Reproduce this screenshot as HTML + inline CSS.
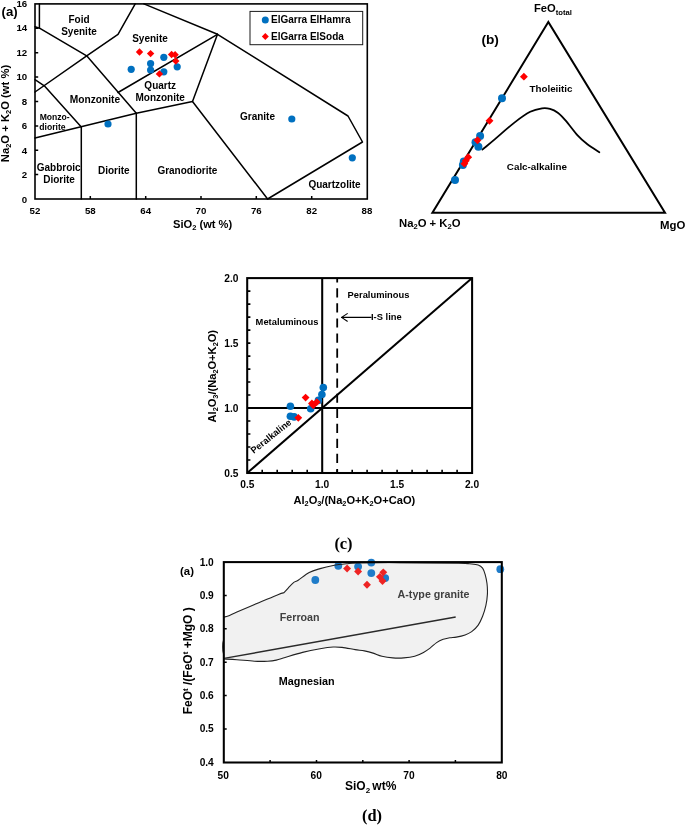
<!DOCTYPE html>
<html lang="en">
<head>
<meta charset="utf-8">
<title>Geochemical classification diagrams</title>
<style>
html,body{margin:0;padding:0;background:#fff;}
body{width:685px;height:825px;overflow:hidden;}
svg{display:block;}
text{font-family:"Liberation Sans",Arial,sans-serif;font-weight:bold;fill:#000;}
.serif{font-family:"Liberation Serif","Times New Roman",serif;font-weight:bold;}
.ln{stroke:#000;stroke-width:1.5;fill:none;stroke-linecap:round;stroke-linejoin:round;}
.ax{stroke:#000;stroke-width:1.6;fill:none;}
.tk{stroke:#000;stroke-width:1.3;fill:none;}
.b{fill:#0070c0;}
.r{fill:#ff0000;}
</style>
</head>
<body>
<svg width="685" height="825" viewBox="0 0 685 825">
<rect x="0" y="0" width="685" height="825" fill="#ffffff"/>

<!-- ================= PANEL A : TAS ================= -->
<g id="panelA">
<rect class="ax" x="35" y="3.9" width="332.3" height="195.1"/>
<g class="ln">
<path d="M39.4 3.9 L39.4 28"/>
<path d="M35 26.8 L39.5 28.2 L86.7 55.8 L136.3 113.3"/>
<path d="M35 138 L136.3 113.3 L192.5 101.5"/>
<path d="M35 92 L86.7 55.8 L118 34.3 L135.2 3.9"/>
<path d="M35 79.7 L44.3 85.8 L81.3 127"/>
<path d="M81.3 127 L81.3 199"/>
<path d="M136.3 113.3 L136.3 199"/>
<path d="M118 92.5 L217.5 34.3"/>
<path d="M143.9 3.9 L217.5 34.3 L348 116 L362.5 142 L267.6 199"/>
<path d="M217.5 34.3 L192.5 101.5 L267.6 199"/>
</g>
<!-- ticks -->
<g class="tk" style="stroke-width:1.5">
<path d="M35 174.6h3.2M35 150.2h3.2M35 125.9h3.2M35 101.5h3.2M35 77.1h3.2M35 52.7h3.2M35 28.3h3.2"/>
<path d="M90.3 199v-3M145.7 199v-3M201 199v-3M256.3 199v-3M311.7 199v-3"/>
</g>
<g font-size="9.7" text-anchor="end">
<text x="27.2" y="202.5">0</text><text x="27.2" y="178">2</text><text x="27.2" y="153.6">4</text><text x="27.2" y="129.2">6</text>
<text x="27.2" y="104.7">8</text><text x="27.2" y="80.3">10</text><text x="27.2" y="55.8">12</text><text x="27.2" y="31">14</text><text x="27.2" y="6.8">16</text>
</g>
<g font-size="9.7" text-anchor="middle">
<text x="35" y="213.5">52</text><text x="90.3" y="213.5">58</text><text x="145.7" y="213.5">64</text><text x="201" y="213.5">70</text>
<text x="256.3" y="213.5">76</text><text x="311.7" y="213.5">82</text><text x="367" y="213.5">88</text>
</g>
<text x="1.5" y="16.3" font-size="13.2">(a)</text>
<text transform="translate(9,113.5) rotate(-90)" font-size="11.25" text-anchor="middle">Na<tspan font-size="7.5" dy="2.2">2</tspan><tspan dy="-2.2">O + K</tspan><tspan font-size="7.5" dy="2.2">2</tspan><tspan dy="-2.2">O (wt %)</tspan></text>
<text x="202.6" y="228" font-size="11.15" text-anchor="middle">SiO<tspan font-size="7.5" dy="2.2">2</tspan><tspan dy="-2.2"> (wt %)</tspan></text>
<!-- field labels -->
<g font-size="10" text-anchor="middle">
<text x="79" y="23">Foid</text><text x="79" y="35">Syenite</text>
<text x="150" y="42">Syenite</text>
<text x="160.2" y="88.5">Quartz</text><text x="160.2" y="100.6">Monzonite</text>
<text x="95" y="102.5" font-size="10.2">Monzonite</text>
<text x="54.7" y="119.9" font-size="8.6">Monzo-</text><text x="52.5" y="129.8" font-size="8.6">diorite</text>
<text x="58.7" y="171">Gabbroic</text><text x="59" y="183">Diorite</text>
<text x="113.8" y="174">Diorite</text>
<text x="187.4" y="174">Granodiorite</text>
<text x="257.5" y="119.6">Granite</text>
<text x="334.5" y="188">Quartzolite</text>
</g>
<!-- legend -->
<rect x="250" y="11.4" width="112.7" height="33.3" fill="#fff" stroke="#1a1a1a" stroke-width="1"/>
<circle class="b" cx="265.3" cy="19.9" r="3.5"/>
<path class="r" d="M265.3 33 l3.5 3.5 -3.5 3.5 -3.5 -3.5z"/>
<text x="271" y="23.4" font-size="10">ElGarra ElHamra</text>
<text x="271" y="40" font-size="10">ElGarra ElSoda</text>
<!-- data -->
<g class="b">
<circle cx="163.8" cy="57.3" r="3.6"/><circle cx="150.6" cy="63.6" r="3.6"/><circle cx="150.6" cy="70" r="3.6"/>
<circle cx="131.2" cy="69.3" r="3.6"/><circle cx="163.8" cy="71.8" r="3.6"/><circle cx="177.2" cy="66.8" r="3.6"/>
<circle cx="108" cy="124" r="3.6"/><circle cx="291.8" cy="119" r="3.6"/><circle cx="352.3" cy="157.8" r="3.6"/>
</g>
<g class="r">
<path d="M139.5 48.3l3.7 3.7-3.7 3.7-3.7-3.7z"/><path d="M150.6 49.9l3.7 3.7-3.7 3.7-3.7-3.7z"/>
<path d="M171.6 50.8l3.7 3.7-3.7 3.7-3.7-3.7z"/><path d="M175.1 51.1l3.7 3.7-3.7 3.7-3.7-3.7z"/>
<path d="M175.8 57.4l3.7 3.7-3.7 3.7-3.7-3.7z"/><path d="M159.4 70.2l3.7 3.7-3.7 3.7-3.7-3.7z"/>
</g>
</g>

<!-- ================= PANEL B : AFM ================= -->
<g id="panelB">
<path class="ln" style="stroke-width:2;stroke-linejoin:miter" d="M548.3 22 L432.4 212.8 L665 212.8 Z"/>
<path class="ln" style="stroke-width:1.8" d="M482.4 149.6 C484.4 147.9 489.4 143.9 494.7 139.4 C500.0 134.9 508.5 127.2 514.4 122.6 C520.3 118.0 525.6 114.2 530.2 111.8 C534.8 109.4 538.7 108.8 542.0 108.3 C545.3 107.8 547.4 108.1 550.0 108.8 C552.6 109.5 555.2 110.7 557.8 112.7 C560.4 114.7 562.4 116.8 565.7 120.6 C569.0 124.4 574.0 131.4 577.6 135.4 C581.2 139.4 583.8 141.5 587.4 144.3 C591.0 147.1 597.3 150.9 599.3 152.2"/>
<text x="533.9" y="12.4" font-size="11.2">FeO<tspan font-size="7.7" dy="2.2">total</tspan></text>
<text x="481.4" y="43.5" font-size="13.7">(b)</text>
<text x="529.5" y="91.9" font-size="9.8">Tholeiitic</text>
<text x="506.8" y="169.6" font-size="9.85">Calc-alkaline</text>
<text x="399" y="226.5" font-size="11.3">Na<tspan font-size="7.6" dy="2.2">2</tspan><tspan dy="-2.2">O + K</tspan><tspan font-size="7.6" dy="2.2">2</tspan><tspan dy="-2.2">O</tspan></text>
<text x="660" y="228.9" font-size="11.4">MgO</text>
<g class="b">
<circle cx="502" cy="98.2" r="4.0"/><circle cx="480.1" cy="135.9" r="4.0"/><circle cx="475.5" cy="142.3" r="4.0"/>
<circle cx="478.4" cy="146.7" r="4.0"/><circle cx="463.8" cy="161.6" r="4.0"/><circle cx="462.9" cy="165.1" r="4.0"/>
<circle cx="455" cy="180" r="4.0"/>
</g>
<g class="r">
<path d="M523.9 72.7l3.95 3.95-3.95 3.95-3.95-3.95z"/><path d="M489.5 116.8l3.95 3.95-3.95 3.95-3.95-3.95z"/>
<path d="M477.5 136.3l3.95 3.95-3.95 3.95-3.95-3.95z"/><path d="M468.2 153.2l3.95 3.95-3.95 3.95-3.95-3.95z"/>
<path d="M465.8 156.8l3.95 3.95-3.95 3.95-3.95-3.95z"/><path d="M464.4 159.7l3.95 3.95-3.95 3.95-3.95-3.95z"/>
</g>
</g>

<!-- ================= PANEL C : A/CNK ================= -->
<g id="panelC">
<rect class="ax" x="247.2" y="278.1" width="224.9" height="194.9" style="stroke-width:2.05"/>
<path class="ax" style="stroke-width:2.0" d="M247.2 473.0 L472.1 278.1"/>
<path class="ax" style="stroke-width:2.05" d="M322.2 278.1 V473.0"/>
<path class="ax" style="stroke-width:2.05" d="M247.2 408.0 H472.1"/>
<path class="ax" style="stroke-width:1.8" stroke-dasharray="9.2 5.85" stroke-dashoffset="4.85" d="M337.2 278.1 V473.0"/>
<g class="tk" style="stroke-width:1.6">
<path d="M247.2 460.0h3.2M247.2 447.0h3.2M247.2 434.0h3.2M247.2 421.0h3.2M247.2 395.0h3.2M247.2 382.0h3.2M247.2 369.1h3.2M247.2 356.1h3.2M247.2 330.1h3.2M247.2 317.1h3.2M247.2 304.1h3.2M247.2 291.1h3.2M247.2 343.1h3.2"/>
<path d="M262.2 473.0v-3.2M277.2 473.0v-3.2M292.2 473.0v-3.2M307.2 473.0v-3.2M337.2 473.0v-3.2M352.2 473.0v-3.2M367.1 473.0v-3.2M382.1 473.0v-3.2M412.1 473.0v-3.2M427.1 473.0v-3.2M442.1 473.0v-3.2M457.1 473.0v-3.2M397.1 473.0v-3.2"/>
</g>
<g font-size="10.2" text-anchor="end">
<text x="238.4" y="281.9">2.0</text><text x="238.4" y="346.8">1.5</text><text x="238.4" y="411.7">1.0</text><text x="238.4" y="476.6">0.5</text>
</g>
<g font-size="10.2" text-anchor="middle">
<text x="247.4" y="488.2">0.5</text><text x="322.2" y="488.2">1.0</text><text x="397.1" y="488.2">1.5</text><text x="472" y="488.2">2.0</text>
</g>
<text transform="translate(215.8,376.2) rotate(-90) scale(1.04,1)" font-size="10.7" text-anchor="middle">Al<tspan font-size="7" dy="2">2</tspan><tspan dy="-2">O</tspan><tspan font-size="7" dy="2">3</tspan><tspan dy="-2">/(Na</tspan><tspan font-size="7" dy="2">2</tspan><tspan dy="-2">O+K</tspan><tspan font-size="7" dy="2">2</tspan><tspan dy="-2">O)</tspan></text>
<text transform="translate(354.4,503.5) scale(1.04,1)" font-size="10.7" text-anchor="middle">Al<tspan font-size="7" dy="2">2</tspan><tspan dy="-2">O</tspan><tspan font-size="7" dy="2">3</tspan><tspan dy="-2">/(Na</tspan><tspan font-size="7" dy="2">2</tspan><tspan dy="-2">O+K</tspan><tspan font-size="7" dy="2">2</tspan><tspan dy="-2">O+CaO)</tspan></text>
<text x="347.6" y="298" font-size="9.35">Peraluminous</text>
<text x="255.6" y="324.5" font-size="9.35">Metaluminous</text>
<text x="371" y="320" font-size="9.35">I-S line</text>
<path class="ln" style="stroke-width:1.1" d="M341.5 317.4 H371 M347.3 313.6 L341.5 317.4 L347.3 321.2"/>
<text transform="translate(253.7,454) rotate(-38.5)" font-size="9.3">Peralkaline</text>
<text class="serif" x="343.5" y="548.6" font-size="16.4" text-anchor="middle">(c)</text>
<g class="b">
<circle cx="323.3" cy="387.6" r="3.8"/><circle cx="321.9" cy="394.5" r="3.8"/><circle cx="318.4" cy="400.4" r="3.8"/>
<circle cx="290.4" cy="406.2" r="3.8"/><circle cx="310.7" cy="408.8" r="3.8"/><circle cx="290.4" cy="416.2" r="3.8"/>
<circle cx="294.1" cy="416.9" r="3.8"/>
</g>
<g class="r">
<path d="M305.6 393.7l3.9 3.9-3.9 3.9-3.9-3.9z"/><path d="M311.9 399.6l3.9 3.9-3.9 3.9-3.9-3.9z"/>
<path d="M316.8 398.2l3.9 3.9-3.9 3.9-3.9-3.9z"/><path d="M313.3 401.4l3.9 3.9-3.9 3.9-3.9-3.9z"/>
<path d="M298.3 413.9l3.9 3.9-3.9 3.9-3.9-3.9z"/>
</g>
</g>

<!-- ================= PANEL D : Fe* ================= -->
<g id="panelD">
<path d="M223.6 617.3 C223.4 617.1 225.7 616.8 228.1 615.9 C230.5 615.0 231.8 614.1 236.9 611.9 C242.0 609.7 251.9 605.6 258.8 602.7 C265.7 599.8 274.3 596.1 278.5 594.4 C282.7 592.7 283.1 593.0 284.0 592.7 C284.7 591.9 286.8 589.5 288.4 587.8 C290.0 586.1 292.2 583.7 293.8 582.4 C295.4 581.1 295.6 581.9 298.2 580.2 C300.8 578.6 305.5 574.4 309.2 572.5 C312.9 570.6 316.1 569.8 320.1 568.6 C324.1 567.4 328.8 566.3 333.2 565.5 C337.6 564.7 342.4 564.2 346.4 563.8 C350.4 563.4 348.4 563.1 357.3 562.9 C366.2 562.7 383.1 562.5 400.0 562.6 C416.9 562.7 446.9 563.1 458.5 563.3 C470.1 563.5 466.2 563.5 469.5 563.8 C472.8 564.1 476.0 564.2 478.2 564.9 C480.4 565.6 481.4 566.5 482.6 568.1 C483.8 569.7 484.5 572.1 485.2 574.7 C485.9 577.3 486.6 580.2 487.0 583.5 C487.4 586.8 487.6 590.8 487.4 594.4 C487.2 598.0 486.7 601.8 485.9 605.4 C485.1 609.0 483.9 613.0 482.6 616.3 C481.3 619.6 480.0 622.5 478.2 625.1 C476.4 627.7 473.9 630.0 471.7 631.6 C469.5 633.2 467.7 634.0 465.1 634.9 C462.5 635.8 458.9 636.6 456.3 637.1 C453.8 637.6 452.0 637.4 449.8 637.8 C447.6 638.2 445.4 638.5 443.2 639.3 C441.0 640.1 438.8 641.1 436.6 642.6 C434.4 644.1 432.3 646.5 430.1 648.1 C427.9 649.7 426.1 651.0 423.5 652.4 C420.9 653.8 418.0 655.3 414.7 656.2 C411.4 657.1 407.4 657.6 403.8 657.9 C400.2 658.2 396.5 658.2 392.8 657.9 C389.1 657.6 385.2 657.0 381.9 656.2 C378.6 655.4 376.0 654.0 373.1 653.1 C370.2 652.2 367.4 651.5 364.4 650.9 C361.4 650.3 358.8 650.2 355.1 649.6 C351.4 649.0 345.6 647.8 342.0 647.4 C338.4 647.0 336.8 646.8 333.2 647.0 C329.6 647.2 325.2 647.8 320.1 648.7 C315.0 649.6 308.4 650.9 302.6 652.4 C296.8 653.9 289.5 656.2 285.1 657.5 C280.7 658.8 279.2 659.5 276.3 660.1 C273.4 660.7 271.2 661.0 267.6 661.2 C264.0 661.4 259.5 661.5 254.4 661.2 C249.3 661.0 242.2 660.1 236.9 659.7 C231.6 659.3 224.9 659.1 223.6 659.0 L223.6 654 C222.4 651 222.4 643 223.6 640 Z" fill="#f1f1f1" stroke="none"/>
<g fill="#1f7cc9">
<circle cx="315.3" cy="580" r="3.9"/><circle cx="338.3" cy="565.8" r="3.9"/><circle cx="358.1" cy="566.6" r="3.9"/>
<circle cx="371.3" cy="562.6" r="3.9"/><circle cx="371.3" cy="573.1" r="3.9"/><circle cx="385.2" cy="578.1" r="3.9"/>
<circle cx="500.3" cy="569.2" r="3.9"/>
</g>
<g fill="#ee2424">
<path d="M347.1 564.5l3.95 3.95-3.95 3.95-3.95-3.95z"/><path d="M358.1 567.5l3.95 3.95-3.95 3.95-3.95-3.95z"/>
<path d="M383.3 568.4l3.95 3.95-3.95 3.95-3.95-3.95z"/><path d="M379.9 572.9l3.95 3.95-3.95 3.95-3.95-3.95z"/>
<path d="M382.5 577.0l3.95 3.95-3.95 3.95-3.95-3.95z"/><path d="M367.0 580.8l3.95 3.95-3.95 3.95-3.95-3.95z"/>
</g>
<path d="M223.6 617.3 C223.4 617.1 225.7 616.8 228.1 615.9 C230.5 615.0 231.8 614.1 236.9 611.9 C242.0 609.7 251.9 605.6 258.8 602.7 C265.7 599.8 274.3 596.1 278.5 594.4 C282.7 592.7 283.1 593.0 284.0 592.7 C284.7 591.9 286.8 589.5 288.4 587.8 C290.0 586.1 292.2 583.7 293.8 582.4 C295.4 581.1 295.6 581.9 298.2 580.2 C300.8 578.6 305.5 574.4 309.2 572.5 C312.9 570.6 316.1 569.8 320.1 568.6 C324.1 567.4 328.8 566.3 333.2 565.5 C337.6 564.7 342.4 564.2 346.4 563.8 C350.4 563.4 348.4 563.1 357.3 562.9 C366.2 562.7 383.1 562.5 400.0 562.6 C416.9 562.7 446.9 563.1 458.5 563.3 C470.1 563.5 466.2 563.5 469.5 563.8 C472.8 564.1 476.0 564.2 478.2 564.9 C480.4 565.6 481.4 566.5 482.6 568.1 C483.8 569.7 484.5 572.1 485.2 574.7 C485.9 577.3 486.6 580.2 487.0 583.5 C487.4 586.8 487.6 590.8 487.4 594.4 C487.2 598.0 486.7 601.8 485.9 605.4 C485.1 609.0 483.9 613.0 482.6 616.3 C481.3 619.6 480.0 622.5 478.2 625.1 C476.4 627.7 473.9 630.0 471.7 631.6 C469.5 633.2 467.7 634.0 465.1 634.9 C462.5 635.8 458.9 636.6 456.3 637.1 C453.8 637.6 452.0 637.4 449.8 637.8 C447.6 638.2 445.4 638.5 443.2 639.3 C441.0 640.1 438.8 641.1 436.6 642.6 C434.4 644.1 432.3 646.5 430.1 648.1 C427.9 649.7 426.1 651.0 423.5 652.4 C420.9 653.8 418.0 655.3 414.7 656.2 C411.4 657.1 407.4 657.6 403.8 657.9 C400.2 658.2 396.5 658.2 392.8 657.9 C389.1 657.6 385.2 657.0 381.9 656.2 C378.6 655.4 376.0 654.0 373.1 653.1 C370.2 652.2 367.4 651.5 364.4 650.9 C361.4 650.3 358.8 650.2 355.1 649.6 C351.4 649.0 345.6 647.8 342.0 647.4 C338.4 647.0 336.8 646.8 333.2 647.0 C329.6 647.2 325.2 647.8 320.1 648.7 C315.0 649.6 308.4 650.9 302.6 652.4 C296.8 653.9 289.5 656.2 285.1 657.5 C280.7 658.8 279.2 659.5 276.3 660.1 C273.4 660.7 271.2 661.0 267.6 661.2 C264.0 661.4 259.5 661.5 254.4 661.2 C249.3 661.0 242.2 660.1 236.9 659.7 C231.6 659.3 224.9 659.1 223.6 659.0 L223.6 654 C222.4 651 222.4 643 223.6 640 Z" fill="none" stroke="#222" stroke-width="1.1" stroke-linejoin="round"/>
<path d="M224 658.4 L455.7 617" stroke="#2a2a2a" stroke-width="1.4" fill="none"/>
<rect class="ax" x="223.8" y="562.1" width="278" height="200.4" style="stroke-width:2.05"/>
<g class="tk" style="stroke-width:1.5">
<path d="M224 595.4h2.7M224 628.8h2.7M224 662.2h2.7M224 695.6h2.7M224 729h2.7"/>
<path d="M270.1 762.5v-2.5M316.5 762.5v-2.5M362.8 762.5v-2.5M409.1 762.5v-2.5M455.4 762.5v-2.5"/>
</g>
<g font-size="10.2" text-anchor="end">
<text x="213.8" y="565.5">1.0</text><text x="213.8" y="598.8">0.9</text><text x="213.8" y="632.2">0.8</text><text x="213.8" y="665.5">0.7</text>
<text x="213.8" y="698.8">0.6</text><text x="213.8" y="732.2">0.5</text><text x="213.8" y="765.5">0.4</text>
</g>
<g font-size="10.2" text-anchor="middle">
<text x="223.2" y="778.8">50</text><text x="316.2" y="778.8">60</text><text x="409" y="778.8">70</text><text x="501.8" y="778.8">80</text>
</g>
<text x="180" y="575" font-size="11.4">(a)</text>
<text transform="translate(192,660.8) rotate(-90)" font-size="12" text-anchor="middle">FeO<tspan font-size="7.8" dy="-4">t</tspan><tspan dy="4"> /(FeO</tspan><tspan font-size="7.8" dy="-4">t</tspan><tspan dy="4"> +MgO )</tspan></text>
<text x="370.7" y="790.2" font-size="12" text-anchor="middle">SiO<tspan font-size="8" dy="2.4">2 </tspan><tspan dy="-2.4">wt%</tspan></text>
<text x="279.8" y="620.6" font-size="10.7" style="fill:#404040">Ferroan</text>
<text x="397.6" y="597.8" font-size="10.7" style="fill:#404040">A-type granite</text>
<text x="278.8" y="684.8" font-size="10.8">Magnesian</text>
<text class="serif" x="372" y="821" font-size="16.4" text-anchor="middle">(d)</text>
</g>
</svg>
</body>
</html>
